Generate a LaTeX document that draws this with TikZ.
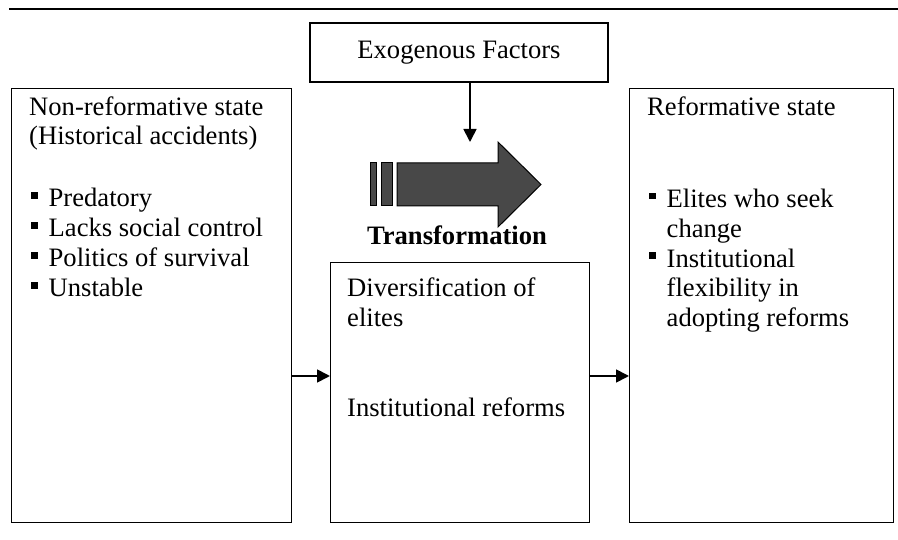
\documentclass[tikz,border=0pt]{standalone}
\usepackage{fontspec}
\setmainfont{Liberation Serif}
\usetikzlibrary{arrows.meta,positioning}
\definecolor{blockgray}{RGB}{72,72,72}
\newcommand{\sqbul}{\rule[8pt]{6.5pt}{6.5pt}}
\newcommand{\bitem}[1]{\hspace*{2pt}\makebox[17.5pt][l]{\sqbul}#1}
\newcommand{\bcont}[1]{\hspace*{19.5pt}#1}

\begin{document}
\begin{tikzpicture}[
  x=1pt, y=-1pt,
  font=\fontsize{26.6}{30}\selectfont,
  box/.style={draw, line width=1.3pt, inner sep=0pt, anchor=north west},
  txt/.style={anchor=base west, align=left, inner sep=0pt},
  arr/.style={-{Triangle[length=13pt,width=13pt]}, line width=1.8pt}
]
\useasboundingbox (0,0) rectangle (898,540);

% rule along the top
\coordinate (rulel) at (9,9);
\coordinate (ruler) at (898,9);
\draw[line width=2.6pt] (rulel) -- (ruler);

% boxes
\node[draw, line width=1.3pt, minimum width=298, minimum height=59] (exo) at (459,52.5) {Exogenous Factors};
\node[box, minimum width=280, minimum height=434] (nonref) at (11,88) {};
\node[box, minimum width=259, minimum height=260] (divers) at (330,262) {};
\node[box, minimum width=264, minimum height=434] (reform) at (629,88) {};

% texts (base = last line)
\node[txt] (nonreftxt) at (29,297) {Non-reformative state\\(Historical accidents)\\[32pt]
  \bitem{Predatory}\\\bitem{Lacks social control}\\\bitem{Politics of survival}\\\bitem{Unstable}};
\node[txt] (diverstxt) at (347,417) {Diversification of\\elites\\[60pt]Institutional reforms};
\node[txt] (reformtxt) at (647,327) {Reformative state\\[62pt]
  \bitem{Elites who seek}\\\bcont{change}\\\bitem{Institutional}\\\bcont{flexibility in}\\\bcont{adopting reforms}};

% block arrow
\filldraw[fill=blockgray, line width=1pt] (370,163) rectangle (376,206);
\filldraw[fill=blockgray, line width=1pt] (381,163) rectangle (392,206);
\filldraw[fill=blockgray, line width=1pt] (397,163) -- (498,163) -- (498,142) -- (541,184.5)
  -- (498,227) -- (498,206) -- (397,206) -- cycle;
\node[anchor=base, inner sep=0pt] (transf) at (457,245) {\bfseries Transformation};

% connectors
\coordinate (exohit) at (470,142);
\coordinate (midrow) at (0,376);
\draw[arr] (exo.south -| exohit) -- (exohit);
\draw[arr] (nonref.east |- midrow) -- (divers.west |- midrow);
\draw[arr] (divers.east |- midrow) -- (reform.west |- midrow);
\end{tikzpicture}
\end{document}
